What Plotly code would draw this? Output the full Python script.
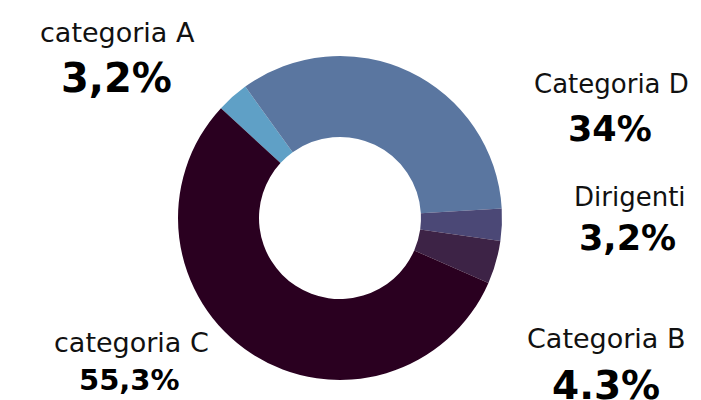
import plotly.graph_objects as go

labels = ["categoria A", "Categoria D", "Dirigenti", "Categoria B", "categoria C"]
values = [3.2, 34, 3.2, 4.3, 55.3]
pct_text = ["3,2%", "34%", "3,2%", "4.3%", "55,3%"]
colors = ["#5fa0c6", "#5a76a0", "#4b4876", "#3d2346", "#2a0020"]

W, H = 701, 400
OFF = 8  # page body margin
cx, cy, r = 340 - OFF, 218 - OFF, 162

fig = go.Figure(go.Pie(
    labels=labels, values=values, sort=False, direction="clockwise",
    rotation=-47.3, hole=0.5,
    marker=dict(colors=colors, line=dict(width=0)),
    textinfo="none", hoverinfo="label+percent", showlegend=False,
    domain=dict(x=[(cx - r) / W, (cx + r) / W], y=[(H - cy - r) / H, (H - cy + r) / H]),
))

# label positions (pixel centers) and sizes
name_pos = [(118, 32, 27), (611, 84, 26), (630, 197, 26), (606, 338, 27), (131, 342, 27)]
pct_pos = [(117, 78, 40), (610, 129, 35), (627, 238, 35), (606, 385, 39), (129, 380, 29)]

ann = []
FONT = "DejaVu Sans"
for i in range(len(labels)):
    x, y, s = name_pos[i]
    ann.append(dict(text=labels[i], x=(x - OFF) / W, y=1 - (y - OFF) / H, xref="paper", yref="paper",
                    xanchor="center", yanchor="middle", showarrow=False,
                    font=dict(family=FONT, size=s, color="#111111")))
    x, y, s = pct_pos[i]
    ann.append(dict(text="<b>" + pct_text[i] + "</b>", x=(x - OFF) / W, y=1 - (y - OFF) / H,
                    xref="paper", yref="paper",
                    xanchor="center", yanchor="middle", showarrow=False,
                    font=dict(family=FONT, size=s, color="#000000")))

fig.update_layout(
    width=W, height=H, margin=dict(l=0, r=0, t=0, b=0),
    paper_bgcolor="white", plot_bgcolor="white",
    annotations=ann,
)
fig.write_html("out.html")
